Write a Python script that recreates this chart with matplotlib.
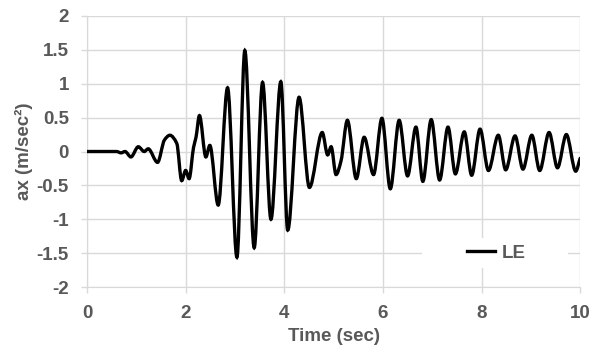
import numpy as np
import matplotlib
matplotlib.use("Agg")
import matplotlib.pyplot as plt
from matplotlib.path import Path
from matplotlib.patches import PathPatch, Rectangle
from matplotlib.lines import Line2D

plt.rcParams['font.family'] = ['Liberation Sans', 'DejaVu Sans']
plt.rcParams['font.weight'] = 'bold'

# peaks / troughs / shoulders
time = [0.0, 0.6, 0.69, 0.77, 0.89, 1.04, 1.16, 1.24, 1.43, 1.57, 1.68, 1.82,
        1.92, 2.0, 2.07, 2.16, 2.21, 2.28, 2.41, 2.49, 2.66, 2.85, 3.04, 3.20,
        3.39, 3.56, 3.73, 3.93, 4.07, 4.30, 4.51, 4.77, 4.88, 4.95, 5.05, 5.15,
        5.28, 5.46, 5.62, 5.81, 5.98, 6.15, 6.33, 6.50, 6.67, 6.81, 6.98, 7.15,
        7.32, 7.47, 7.65, 7.80, 7.97, 8.14, 8.34, 8.49, 8.68, 8.84, 9.02, 9.18,
        9.37, 9.54, 9.72, 9.91, 10.0]
ax_acc = [0.0, 0.0, -0.02, 0.0, -0.08, 0.07, 0.0, 0.04, -0.16, 0.17, 0.24, 0.12,
          -0.43, -0.28, -0.40, 0.06, 0.21, 0.53, -0.08, 0.09, -0.79, 0.94, -1.56, 1.49,
          -1.42, 1.02, -1.00, 1.03, -1.16, 0.80, -0.53, 0.28, -0.05, 0.07, -0.34, -0.14,
          0.46, -0.40, 0.21, -0.34, 0.49, -0.55, 0.46, -0.36, 0.36, -0.44, 0.47, -0.42,
          0.36, -0.33, 0.29, -0.35, 0.33, -0.28, 0.24, -0.27, 0.23, -0.26, 0.24, -0.28,
          0.28, -0.24, 0.25, -0.29, -0.10]
series_name = "LE"
x_ticks = [0, 2, 4, 6, 8, 10]
y_ticks = [-2, -1.5, -1, -0.5, 0, 0.5, 1, 1.5, 2]


def smooth_path(x, y):
    # Excel-like smoothed line: cubic Bezier segments, flat tangents at extrema
    x = np.asarray(x, float)
    y = np.asarray(y, float)
    n = len(x)
    d = np.diff(y) / np.diff(x)
    m = np.zeros(n)
    m[0], m[-1] = d[0], d[-1]
    for i in range(1, n - 1):
        if d[i - 1] * d[i] > 0:
            m[i] = 2.0 / (1.0 / d[i - 1] + 1.0 / d[i])
    verts = [(x[0], y[0])]
    codes = [Path.MOVETO]
    for i in range(n - 1):
        h = x[i + 1] - x[i]
        verts += [(x[i] + h / 3, y[i] + m[i] * h / 3),
                  (x[i + 1] - h / 3, y[i + 1] - m[i + 1] * h / 3),
                  (x[i + 1], y[i + 1])]
        codes += [Path.CURVE4] * 3
    return Path(verts, codes)


fig, ax = plt.subplots(figsize=(5.92, 3.54), dpi=100)
fig.subplots_adjust(left=0.147, right=0.98, top=0.955, bottom=0.189)

grey = '#d9d9d9'
text_col = '#595959'
fs = 13.5

ax.add_patch(PathPatch(smooth_path(time, ax_acc), facecolor='none',
                       edgecolor='black', lw=2.4, zorder=3, capstyle='round'))

ax.set_xlim(0, 10)
ax.set_ylim(-2, 2)
ax.set_xticks(x_ticks)
ax.set_yticks(y_ticks)
ax.set_yticklabels([f'{v:g}' for v in y_ticks])
ax.grid(True, color=grey, lw=1)
ax.set_axisbelow(True)
for s in ['top', 'right']:
    ax.spines[s].set_visible(False)
for s in ['left', 'bottom']:
    ax.spines[s].set_color(grey)
ax.tick_params(colors=grey, labelcolor=text_col, labelsize=fs, length=4, width=1, pad=9)

ax.set_xlabel('Time (sec)', fontsize=fs, color=text_col, fontweight='bold', labelpad=4)
ax.set_ylabel('ax (m/sec²)', fontsize=fs, color=text_col, fontweight='bold', labelpad=2.5)

# white legend area
ax.add_patch(Rectangle((0.68, 0.07), 0.295, 0.11, transform=ax.transAxes,
                       facecolor='white', edgecolor='none', zorder=1))
handle = Line2D([], [], color='black', lw=2.4)
leg = ax.legend([handle], [series_name], loc='center', bbox_to_anchor=(0.83, 0.125),
                frameon=False, handlelength=1.5, handletextpad=0.4,
                prop={'size': fs, 'weight': 'bold'})
for t in leg.get_texts():
    t.set_color(text_col)

fig.savefig('out.png', dpi=100)
